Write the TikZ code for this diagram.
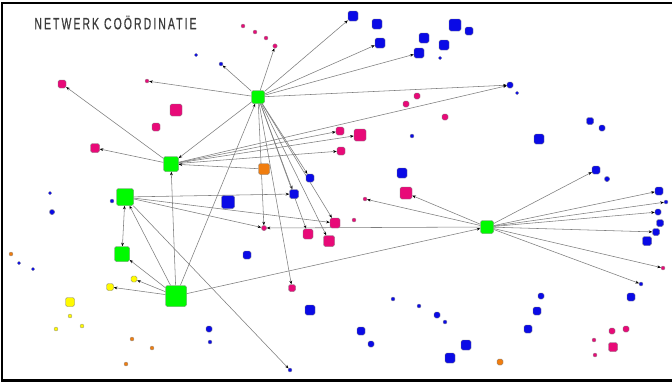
\documentclass[tikz,border=0pt]{standalone}
\usepackage{fontspec}
\setmainfont{Liberation Sans}
\usetikzlibrary{arrows.meta,backgrounds}
\definecolor{ngreen}{RGB}{0,250,0}
\definecolor{nblue}{RGB}{10,10,230}
\definecolor{npink}{RGB}{232,10,120}
\definecolor{norange}{RGB}{240,125,15}
\definecolor{nyellow}{RGB}{255,250,0}
\definecolor{edgegray}{RGB}{125,125,125}
\definecolor{titlegray}{RGB}{60,60,60}
\begin{document}
\begin{tikzpicture}[x=1pt,y=-1pt,
  vx/.style={draw=black!50, line width=0.4pt, rounded corners=1.6pt, inner sep=0pt, minimum size=#1},
  gnode/.style={vx=#1, fill=ngreen},
  bnode/.style={vx=#1, fill=nblue},
  pnode/.style={vx=#1, fill=npink},
  onode/.style={vx=#1, fill=norange},
  ynode/.style={vx=#1, fill=nyellow},
  dotv/.style={circle, draw=black!45, line width=0.3pt, inner sep=0pt, minimum size=#1},
  bdot/.style={dotv=#1, fill=nblue},
  pdot/.style={dotv=#1, fill=npink},
  odot/.style={dotv=#1, fill=norange},
  ydot/.style={dotv=#1, fill=nyellow},
  link/.style={draw=edgegray, line width=0.55pt, -{Stealth[length=3.6pt,width=2.8pt,color=black]}},
  blink/.style={draw=edgegray, line width=0.55pt, {Stealth[length=3.6pt,width=2.8pt,color=black]}-{Stealth[length=3.6pt,width=2.8pt,color=black]}}
]
\useasboundingbox (0,0) rectangle (672,383);
% frame
\draw[line width=2.4pt] (672,2.8) -- (1.9,2.8) -- (1.9,380.5) -- (672,380.5);

% title
\node[text=titlegray, inner sep=0pt] (title) at (115.5,22.5)
  {\scalebox{0.64}[1]{\fontsize{16.3pt}{18pt}\selectfont\addfontfeatures{LetterSpace=20,FakeBold=0.6}NETWERK COÖRDINATIE}};

% coordinating hubs
\node[gnode=13] (g1) at (258,97) {};
\node[gnode=15] (g2) at (171,164) {};
\node[gnode=17] (g5) at (125,197) {};
\node[gnode=15] (g6) at (122,254) {};
\node[gnode=21] (g4) at (176,296) {};
\node[gnode=13] (g3) at (487,227) {};

% orange
\node[onode=11] (o1) at (264,169) {};
\node[onode=6] (o2) at (500,362) {};
\node[odot=4] (o3) at (11,254) {};
\node[odot=4] (o4) at (132,339) {};
\node[odot=4] (o5) at (152,348) {};
\node[odot=4] (o6) at (126,364) {};

% yellow
\node[ynode=6] (y1) at (134,279) {};
\node[ynode=7] (y2) at (110,287) {};
\node[ynode=9] (y3) at (70,302) {};
\node[ydot=4] (y4) at (70,316) {};
\node[ydot=4] (y5) at (82,326) {};
\node[ydot=4] (y6) at (56,329) {};

% pink
\node[pnode=8] (p1) at (62,84) {};
\node[pdot=4] (p2) at (147,81) {};
\node[pnode=12] (p3) at (176,110) {};
\node[pnode=8] (p4) at (156,127) {};
\node[pnode=9] (p5) at (95,148) {};
\node[pdot=4] (p6) at (243,26) {};
\node[pdot=4] (p7) at (255,32) {};
\node[pdot=4] (p8) at (266,38) {};
\node[pdot=4.5] (p9) at (275,46) {};
\node[pnode=6] (p10) at (417,96) {};
\node[pnode=6] (p11) at (406,104) {};
\node[pnode=6] (p12) at (445,117) {};
\node[pnode=8] (p13) at (340,131) {};
\node[pnode=12] (p14) at (360,135) {};
\node[pnode=8] (p15) at (341,151) {};
\node[pnode=12] (p16) at (406,193) {};
\node[pdot=4] (p17) at (365,199) {};
\node[pdot=4] (p18) at (354,220) {};
\node[pnode=10] (p19) at (335,223) {};
\node[pnode=5] (p20) at (264,228) {};
\node[pnode=10] (p21) at (308,234) {};
\node[pnode=11] (p22) at (329,241) {};
\node[pnode=7] (p23) at (292,288) {};
\node[pdot=4] (p24) at (663,268) {};
\node[pnode=6] (p25) at (612,331) {};
\node[pnode=6] (p26) at (626,329) {};
\node[pdot=4] (p27) at (594,340) {};
\node[pnode=9] (p28) at (613,347) {};
\node[pdot=4] (p29) at (595,355) {};

% blue
\node[bdot=3.5] (b1) at (196,55) {};
\node[bdot=4] (b2) at (221,64) {};
\node[bnode=10] (b3) at (353,16) {};
\node[bnode=10] (b4) at (377,24) {};
\node[bnode=10] (b5) at (380,43) {};
\node[bnode=10] (b6) at (424,38) {};
\node[bnode=10] (b7) at (444,45) {};
\node[bnode=10] (b8) at (419,53) {};
\node[bdot=3.5] (b9) at (440,58) {};
\node[bnode=12] (b10) at (455,25) {};
\node[bnode=8] (b11) at (469,31) {};
\node[bnode=6] (b12) at (510,85) {};
\node[bdot=3.5] (b13) at (517,93) {};
\node[bnode=7] (b14) at (590,121) {};
\node[bnode=6] (b15) at (602,128) {};
\node[bnode=10] (b16) at (539,139) {};
\node[bdot=4] (b17) at (412,136) {};
\node[bnode=10] (b18) at (402,173) {};
\node[bnode=8] (b19) at (310,178) {};
\node[bnode=9] (b20) at (294,194) {};
\node[bnode=13] (b21) at (228,202) {};
\node[bnode=8] (b22) at (596,170) {};
\node[bnode=5] (b23) at (607,179) {};
\node[bnode=8] (b24) at (659,191) {};
\node[bdot=4] (b25) at (666,202) {};
\node[bnode=6] (b26) at (658,212) {};
\node[bnode=7] (b27) at (660,223) {};
\node[bnode=7] (b28) at (656,232) {};
\node[bnode=9] (b29) at (647,241) {};
\node[bdot=4] (b30) at (641,284) {};
\node[bnode=8] (b31) at (631,297) {};
\node[bdot=3.5] (b32) at (50,193) {};
\node[bnode=5] (b33) at (52,212) {};
\node[bdot=4] (b34) at (112,201) {};
\node[bdot=3.5] (b35) at (19,263) {};
\node[bdot=3.5] (b36) at (33,269) {};
\node[bnode=8] (b37) at (247,255) {};
\node[bnode=6] (b38) at (209,329) {};
\node[bdot=4] (b39) at (210,342) {};
\node[bnode=10] (b40) at (310,310) {};
\node[bdot=4] (b41) at (393,299) {};
\node[bdot=4] (b42) at (419,306) {};
\node[bnode=6] (b43) at (437,315) {};
\node[bdot=4] (b44) at (445,322) {};
\node[bnode=8] (b45) at (361,331) {};
\node[bnode=6] (b46) at (371,344) {};
\node[bdot=4] (b47) at (290,370) {};
\node[bnode=10] (b48) at (450,358) {};
\node[bnode=10] (b49) at (466,345) {};
\node[bnode=8] (b50) at (528,329) {};
\node[bnode=8] (b51) at (537,311) {};
\node[bnode=6] (b52) at (541,296) {};

\begin{pgfonlayer}{background}
  \fill[white] (0,0) rectangle (672,383);
  % hub at the top
  \foreach \t in {b2,p2,p9,b3,b5,b8,b12,g2,b19,b20,p19,p21,p22,p23,p20}
    \draw[link] (g1) -- (\t);
  % hub on the left
  \foreach \t in {p1,p5,p13,p14,p15,b12}
    \draw[link] (g2) -- (\t);
  \draw[link] (o1) -- (g2);
  % hub at the bottom
  \foreach \t in {g2,g1,g5,g6,y1,y2,g3}
    \draw[link] (g4) -- (\t);
  \draw[blink] (g5) -- (g6);
  \foreach \t in {b20,p19,p20,b47}
    \draw[link] (g5) -- (\t);
  % hub on the right
  \foreach \t in {p20,p17,p16,b22,b24,b25,b26,b28,p24,b30}
    \draw[link] (g3) -- (\t);
\end{pgfonlayer}
\end{tikzpicture}
\end{document}
